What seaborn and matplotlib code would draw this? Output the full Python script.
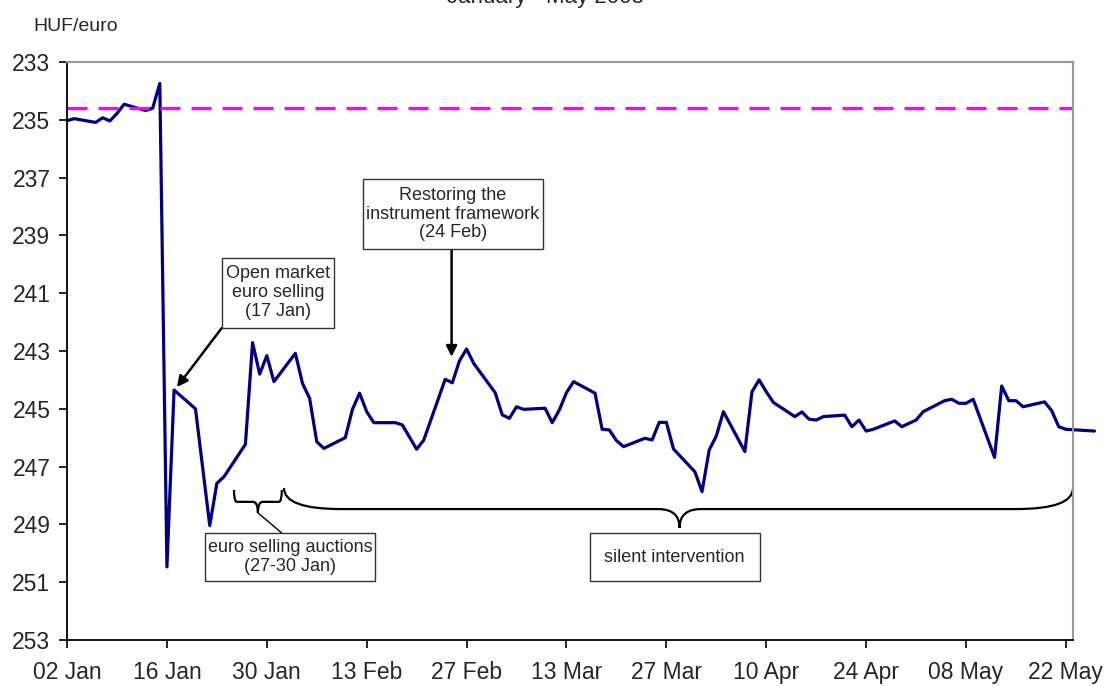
import matplotlib
matplotlib.use("Agg")
import numpy as np
import pandas as pd
import matplotlib.pyplot as plt
import matplotlib.dates as mdates
import seaborn as sns
from matplotlib.path import Path
from matplotlib.patches import PathPatch, Rectangle

# ------------------------------------------------------------
# HUF/EUR exchange rate, January - May 2003
# ------------------------------------------------------------
DATES = [
    "2003-01-02", "2003-01-03", "2003-01-06", "2003-01-07", "2003-01-08",
    "2003-01-09", "2003-01-10", "2003-01-13", "2003-01-14", "2003-01-15",
    "2003-01-16", "2003-01-17", "2003-01-20", "2003-01-22", "2003-01-23",
    "2003-01-24", "2003-01-27", "2003-01-28", "2003-01-29", "2003-01-30",
    "2003-01-31", "2003-02-03", "2003-02-04", "2003-02-05", "2003-02-06",
    "2003-02-07", "2003-02-10", "2003-02-11", "2003-02-12", "2003-02-13",
    "2003-02-14", "2003-02-17", "2003-02-18", "2003-02-20", "2003-02-21",
    "2003-02-24", "2003-02-25", "2003-02-26", "2003-02-27", "2003-02-28",
    "2003-03-03", "2003-03-04", "2003-03-05", "2003-03-06", "2003-03-07",
    "2003-03-10", "2003-03-11", "2003-03-12", "2003-03-13", "2003-03-14",
    "2003-03-17", "2003-03-18", "2003-03-19", "2003-03-20", "2003-03-21",
    "2003-03-24", "2003-03-25", "2003-03-26", "2003-03-27", "2003-03-28",
    "2003-03-31", "2003-04-01", "2003-04-02", "2003-04-03", "2003-04-04",
    "2003-04-07", "2003-04-08", "2003-04-09", "2003-04-10", "2003-04-11",
    "2003-04-14", "2003-04-15", "2003-04-16", "2003-04-17", "2003-04-18",
    "2003-04-21", "2003-04-22", "2003-04-23", "2003-04-24", "2003-04-25",
    "2003-04-28", "2003-04-29", "2003-05-01", "2003-05-02", "2003-05-05",
    "2003-05-06", "2003-05-07", "2003-05-08", "2003-05-09", "2003-05-12",
    "2003-05-13", "2003-05-14", "2003-05-15", "2003-05-16", "2003-05-19",
    "2003-05-20", "2003-05-21", "2003-05-22", "2003-05-26",
]
HUF_EUR = [
    235.03, 234.96, 235.09, 234.93, 235.04,
    234.78, 234.46, 234.68, 234.60, 233.74,
    250.47, 244.35, 245.00, 249.04, 247.58,
    247.35, 246.23, 242.71, 243.80, 243.16,
    244.06, 243.08, 244.12, 244.64, 246.14,
    246.37, 246.00, 245.02, 244.46, 245.10,
    245.48, 245.48, 245.56, 246.40, 246.08,
    243.98, 244.10, 243.34, 242.93, 243.43,
    244.44, 245.21, 245.33, 244.93, 245.02,
    244.98, 245.48, 245.04, 244.44, 244.06,
    244.46, 245.71, 245.73, 246.10, 246.31,
    246.02, 246.08, 245.47, 245.47, 246.39,
    247.18, 247.87, 246.43, 245.94, 245.10,
    246.48, 244.41, 244.00, 244.41, 244.78,
    245.27, 245.11, 245.36, 245.39, 245.27,
    245.22, 245.62, 245.39, 245.77, 245.71,
    245.42, 245.62, 245.39, 245.10, 244.72,
    244.67, 244.81, 244.81, 244.67, 246.68,
    244.21, 244.72, 244.72, 244.93, 244.76,
    245.06, 245.62, 245.71, 245.77,
]
STRONG_EDGE = 234.6           # strong edge of the intervention band
Y_TICKS = list(range(233, 254, 2))
X_TICK_DATES = pd.date_range("2003-01-02", "2003-05-22", freq="14D")

df = pd.DataFrame({"date": pd.to_datetime(DATES), "rate": HUF_EUR})

sns.set_style("white")
plt.rcParams["font.family"] = ["Liberation Sans", "DejaVu Sans"]

fig = plt.figure(figsize=(11.1, 6.86), dpi=100)
ax = fig.add_axes([0.0604, 0.0671, 0.9063, 0.8425])

sns.lineplot(data=df, x="date", y="rate", color="#000080", lw=2.3, ax=ax)
ax.lines[0].set_clip_on(False)
ax.axhline(STRONG_EDGE, color="#FF00FF", lw=2.4, dashes=(6, 3.3))

BASE = mdates.date2num(pd.Timestamp("2003-01-02"))


def day(d):
    return BASE + d


ax.set_xlim(day(0), day(141))
ax.set_ylim(253, 233)
ax.set_yticks(Y_TICKS)
ax.set_xticks(X_TICK_DATES)
ax.xaxis.set_major_formatter(mdates.DateFormatter("%d %b"))
ax.set_xlabel("")
ax.set_ylabel("")
ax.tick_params(axis="both", labelsize=16.5, direction="out", length=6,
               width=1.2, color="black")
ax.tick_params(axis="x", pad=9)
ax.tick_params(axis="y", pad=6)
ax.tick_params(left=True, bottom=True)

for s in ["left", "bottom"]:
    ax.spines[s].set_color("black")
    ax.spines[s].set_linewidth(1.3)
for s in ["top", "right"]:
    ax.spines[s].set_color("#999999")
    ax.spines[s].set_linewidth(1.5)

fig.text(0.491, 1 - 3 / 686, "January - May 2003", ha="center",
         va="baseline", fontsize=16)
fig.text(33 / 1110, 1 - 31 / 686, "HUF/euro", ha="left", va="baseline",
         fontsize=14)


def box(x0, x1, y0, y1, text):
    ax.add_patch(Rectangle((day(x0), y0), day(x1) - day(x0), y1 - y0,
                           facecolor="white", edgecolor="#333333", lw=1.0,
                           clip_on=False, zorder=4))
    ax.text((day(x0) + day(x1)) / 2, (y0 + y1) / 2, text, ha="center",
            va="center", fontsize=13, linespacing=1.15, zorder=5)


def brace(x0, x1, xm, ytop, ymid, ytip, r_end, r_tip):
    verts = [
        (day(x0), ytop), (day(x0), ymid), (day(x0 + r_end), ymid),
        (day(xm - r_tip), ymid),
        (day(xm), ymid), (day(xm), ytip),
        (day(xm), ymid), (day(xm + r_tip), ymid),
        (day(x1 - r_end), ymid),
        (day(x1), ymid), (day(x1), ytop),
    ]
    codes = [Path.MOVETO, Path.CURVE3, Path.CURVE3, Path.LINETO,
             Path.CURVE3, Path.CURVE3, Path.CURVE3, Path.CURVE3,
             Path.LINETO, Path.CURVE3, Path.CURVE3]
    ax.add_patch(PathPatch(Path(verts, codes), facecolor="none",
                           edgecolor="black", lw=1.6, clip_on=False))


# annotations
box(21.7, 37.4, 239.78, 242.20, "Open market\neuro selling\n(17 Jan)")
ax.annotate("", xy=(day(15.4), 244.25), xytext=(day(21.7), 242.20),
            arrowprops=dict(arrowstyle="-|>", color="black", lw=1.8,
                            mutation_scale=16, shrinkA=0, shrinkB=0))

box(41.46, 66.67, 237.05, 239.47,
    "Restoring the\ninstrument framework\n(24 Feb)")
ax.annotate("", xy=(day(53.9), 243.2), xytext=(day(53.9), 239.47),
            arrowprops=dict(arrowstyle="-|>", color="black", lw=1.8,
                            mutation_scale=16, shrinkA=0, shrinkB=0))

brace(23.4, 30.1, 26.75, 247.81, 248.22, 248.6, 0.4, 0.7)
ax.plot([day(26.75), day(30.1)], [248.6, 249.3], color="black", lw=1.0)
box(19.33, 43.14, 249.30, 250.96, "euro selling auctions\n(27-30 Jan)")

brace(30.4, 141.0, 85.85, 247.74, 248.47, 249.12, 8.0, 3.0)
box(73.25, 97.06, 249.30, 250.96, "silent intervention")

fig.savefig("out.png", dpi=100)
